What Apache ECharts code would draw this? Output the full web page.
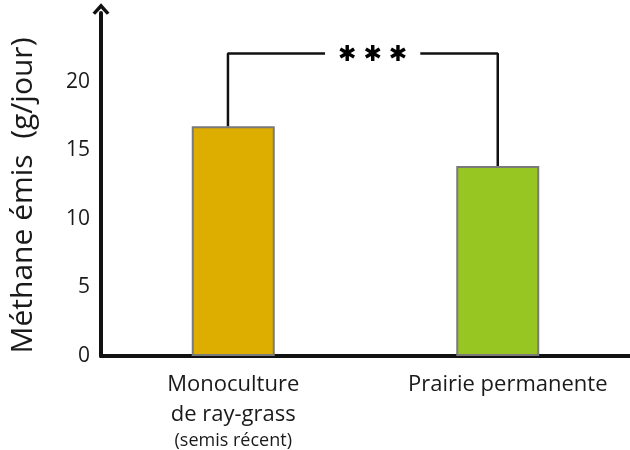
<!DOCTYPE html>
<html>
<head>
<meta charset="utf-8">
<script src="https://cdn.jsdelivr.net/npm/echarts@6/dist/echarts.min.js"></script>
<style>
  html, body { margin: 0; padding: 0; background: #fff; }
  #chart { width: 630px; height: 450px; }
</style>
</head>
<body>
<div id="chart"></div>
<script>
var categories = ['Monoculture', 'Prairie permanente']
var methane = [16.75, 13.84]
var barColors = ['#DDAE00', '#97C623']
var yTicks = [0, 5, 10, 15, 20]
// bracket drawn on a hidden 0..2 value axis (category centres at 0.5 and 1.5)
var bracketX = [0.48, 0.48, 1.5, 1.5]
var bracketY = [16.75, 22.04, 22.04, 13.84]
var signif = '✱ ✱ ✱'

var myChart = echarts.init(document.getElementById('chart'))
var font = '"Open Sans", Lato, sans-serif'

var option = {
    animation: false,
    grid: { left: 99, right: 0, top: 13, bottom: 93 },
    xAxis: [
        {
            type: 'category',
            data: categories,
            axisLine: { lineStyle: { color: '#111', width: 4 } },
            axisTick: { show: false },
            axisLabel: {
                margin: 14,
                interval: 0,
                color: '#1a1a1a',
                fontFamily: font,
                formatter: function (v) {
                    if (v === 'Monoculture') {
                        return '{a|Monoculture}\n{a|de ray-grass}\n{b|(semis récent)}'
                    }
                    return '{c|' + v + '}'
                },
                rich: {
                    a: { fontSize: 22, lineHeight: 30, fontFamily: font, color: '#1a1a1a' },
                    b: { fontSize: 18, lineHeight: 22, fontFamily: font, color: '#1a1a1a' },
                    c: { fontSize: 22, lineHeight: 30, fontFamily: font, color: '#1a1a1a', padding: [0, 0, 0, 20] }
                }
            }
        },
        {
            type: 'value',
            min: 0,
            max: 2,
            show: false
        }
    ],
    yAxis: {
        type: 'value',
        min: 0,
        max: 25,
        interval: 5,
        name: 'Méthane émis  (g/jour)',
        nameLocation: 'middle',
        nameRotate: 90,
        nameGap: 63,
        nameTextStyle: { fontSize: 30, color: '#1a1a1a', fontFamily: font, padding: [0, 22, 0, 0] },
        axisLine: {
            show: true,
            lineStyle: { color: '#111', width: 4 },
            symbol: ['none', 'path://M0,9 L8,0 L16,9 L13.5,11 L8,5 L2.5,11 Z'],
            symbolSize: [17, 13],
            symbolOffset: [0, 4]
        },
        axisTick: { show: false },
        splitLine: { show: false },
        axisLabel: {
            margin: 11,
            color: '#1a1a1a',
            fontSize: 21,
            fontFamily: font,
            formatter: function (v) { return yTicks.indexOf(v) >= 0 ? String(v) : '' }
        }
    },
    series: [
        {
            type: 'bar',
            barWidth: 83,
            data: methane.map(function (v, i) {
                return {
                    value: v,
                    itemStyle: { color: barColors[i], borderColor: '#7a7a7a', borderWidth: 2 }
                }
            })
        },
        {
            type: 'line',
            xAxisIndex: 1,
            symbol: 'none',
            lineStyle: { color: '#111', width: 2.5 },
            data: bracketX.map(function (x, i) { return [x, bracketY[i]] }),
            z: 3
        },
        {
            type: 'scatter',
            xAxisIndex: 1,
            symbolSize: 0,
            itemStyle: { opacity: 1 },
            data: [[1.027, bracketY[1]]],
            label: {
                show: true,
                position: 'inside',
                formatter: signif,
                fontSize: 22,
                color: '#000',
                fontFamily: '"DejaVu Sans"',
                backgroundColor: '#fff',
                padding: [2, 13, 2, 13],
                offset: [0, 2]
            },
            z: 5
        }
    ]
}
myChart.setOption(option)
</script>
</body>
</html>
